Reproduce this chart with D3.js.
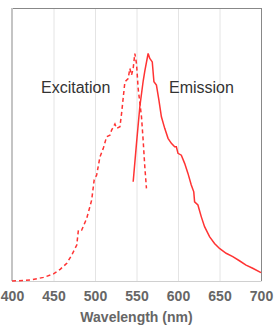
<!DOCTYPE html>
<html>
<head>
<meta charset="utf-8">
<script src="https://cdn.jsdelivr.net/npm/d3@7"></script>
<style>
  body { margin: 0; background: #fff; }
  svg { display: block; font-family: "Liberation Sans", Arial, sans-serif; }
</style>
</head>
<body>
<div id="chart"></div>
<script>
// svg and chart parameters
var svgWidth = 275;
var svgHeight = 326;

var margin = { top: 8, right: 14, bottom: 45, left: 12 };

var width = svgWidth - margin.left - margin.right;
var height = svgHeight - margin.top - margin.bottom;

// data (wavelength nm, relative intensity)
var exWavelength = [400, 422, 438, 450, 458, 466, 472, 478, 480, 484, 490, 496, 499, 502, 506, 510, 514, 518, 520, 524, 526, 530, 532, 536, 540, 542, 544, 546, 548, 550, 552, 556, 558, 560, 562];
var exIntensity = [0, 0.004, 0.016, 0.031, 0.051, 0.078, 0.114, 0.158, 0.224, 0.224, 0.275, 0.356, 0.444, 0.466, 0.546, 0.583, 0.634, 0.641, 0.663, 0.690, 0.671, 0.678, 0.736, 0.875, 0.890, 0.934, 0.905, 0.934, 1.0, 0.956, 0.846, 0.722, 0.619, 0.502, 0.407];

var emWavelength = [546, 550, 554, 558, 560, 564, 566, 569, 571, 574, 577, 580, 584, 588, 592, 596, 598, 600, 604, 608, 612, 616, 619, 620, 624, 628, 632, 638, 644, 650, 658, 666, 674, 682, 690, 700];
var emIntensity = [0.436, 0.605, 0.766, 0.878, 0.922, 1.0, 0.978, 0.963, 0.876, 0.861, 0.795, 0.722, 0.671, 0.627, 0.605, 0.590, 0.590, 0.561, 0.553, 0.517, 0.473, 0.422, 0.392, 0.348, 0.334, 0.283, 0.239, 0.195, 0.165, 0.143, 0.122, 0.107, 0.089, 0.070, 0.056, 0.037];

var xTicks = [400, 450, 500, 550, 600, 650, 700];
var labels = ["Excitation", "Emission"];

var $svg = d3.select("#chart")
  .append("svg")
  .attr("width", svgWidth)
  .attr("height", svgHeight);

var chartGroup = $svg.append("g")
  .attr("transform", `translate(${margin.left}, ${margin.top})`);

// scales
var xScale = d3.scaleLinear().domain([400, 700]).range([0, width]);
var yScale = d3.scaleLinear().domain([0, 1.2]).range([height, 0]);

// grid lines
chartGroup.append("g")
  .selectAll("line")
  .data(xTicks.slice(1, -1))
  .enter()
  .append("line")
  .attr("x1", d => xScale(d) + 0.5)
  .attr("x2", d => xScale(d) + 0.5)
  .attr("y1", 0)
  .attr("y2", height)
  .attr("stroke", "#e4e4e4")
  .attr("stroke-width", 1);

// x axis
var xAxis = d3.axisBottom(xScale).tickValues(xTicks).tickSize(0).tickPadding(10);
var gx = chartGroup.append("g")
  .attr("transform", `translate(0, ${height})`)
  .call(xAxis);
gx.select(".domain").attr("stroke", "#d0d0d0");
gx.selectAll("text")
  .attr("font-size", "14px")
  .attr("font-weight", "bold")
  .attr("fill", "#666")
  .attr("font-family", "'Liberation Sans', Arial, sans-serif");

// frame
chartGroup.append("line")
  .attr("x1", 0).attr("x2", width).attr("y1", 0.5).attr("y2", 0.5)
  .attr("stroke", "#888");
chartGroup.append("line")
  .attr("x1", width + 0.5).attr("x2", width + 0.5).attr("y1", 0).attr("y2", height)
  .attr("stroke", "#888");
chartGroup.append("line")
  .attr("x1", 0).attr("x2", 0).attr("y1", 0).attr("y2", height)
  .attr("stroke", "#c4c4c4")
  .attr("stroke-width", 2);

// lines
var line = d3.line()
  .x(d => xScale(d[0]))
  .y(d => yScale(d[1]));

chartGroup.append("path")
  .datum(d3.zip(exWavelength, exIntensity))
  .attr("d", line)
  .attr("fill", "none")
  .attr("stroke", "#ff3333")
  .attr("stroke-width", 1.5)
  .attr("stroke-dasharray", "4,3");

chartGroup.append("path")
  .datum(d3.zip(emWavelength, emIntensity))
  .attr("d", line)
  .attr("fill", "none")
  .attr("stroke", "#ff3333")
  .attr("stroke-width", 1.5);

// labels
chartGroup.append("text")
  .attr("x", 29)
  .attr("y", 85)
  .attr("font-size", "16px")
  .attr("fill", "#333")
  .text(labels[0]);

chartGroup.append("text")
  .attr("x", 157)
  .attr("y", 85)
  .attr("font-size", "16px")
  .attr("fill", "#333")
  .text(labels[1]);

// axis title
chartGroup.append("text")
  .attr("x", width / 2)
  .attr("y", height + 41)
  .attr("text-anchor", "middle")
  .attr("font-size", "14px")
  .attr("font-weight", "bold")
  .attr("fill", "#666")
  .text("Wavelength (nm)");
</script>
</body>
</html>
